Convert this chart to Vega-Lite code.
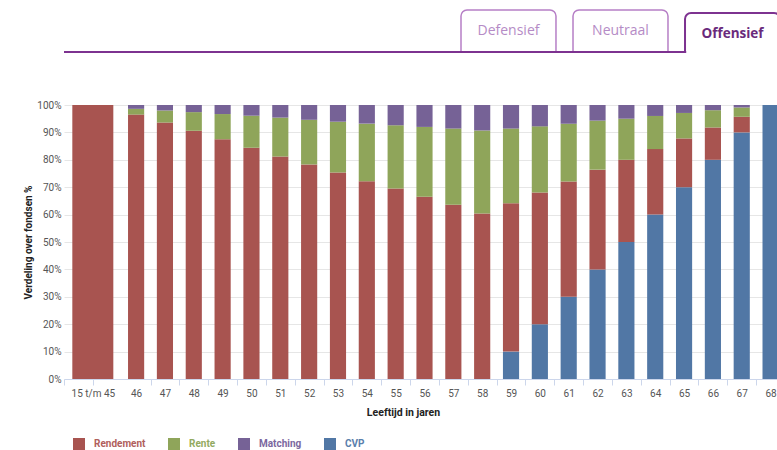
{
  "$schema": "https://vega.github.io/schema/vega-lite/v6.json",
  "padding": {"left": 23, "top": 9, "right": 0, "bottom": 0},
  "config": {
    "font": "Roboto",
    "view": {"stroke": null}
  },
  "columns": 1,
  "align": "none",
  "spacing": 45,
  "resolve": {"scale": {"color": "independent"}},
  "datasets": {
    "tabs": [
      {"tab": "Defensief"},
      {"tab": "Neutraal"},
      {"tab": "Offensief"}
    ],
    "verdeling": [
      {"leeftijd": "15 t/m 45", "fonds": "Rendement", "aandeel": 100},
      {"leeftijd": "46", "fonds": "Rendement", "aandeel": 96.5},
      {"leeftijd": "46", "fonds": "Rente", "aandeel": 2.1},
      {"leeftijd": "46", "fonds": "Matching", "aandeel": 1.4},
      {"leeftijd": "47", "fonds": "Rendement", "aandeel": 93.6},
      {"leeftijd": "47", "fonds": "Rente", "aandeel": 4.4},
      {"leeftijd": "47", "fonds": "Matching", "aandeel": 2.0},
      {"leeftijd": "48", "fonds": "Rendement", "aandeel": 90.6},
      {"leeftijd": "48", "fonds": "Rente", "aandeel": 6.8},
      {"leeftijd": "48", "fonds": "Matching", "aandeel": 2.6},
      {"leeftijd": "49", "fonds": "Rendement", "aandeel": 87.5},
      {"leeftijd": "49", "fonds": "Rente", "aandeel": 9.2},
      {"leeftijd": "49", "fonds": "Matching", "aandeel": 3.3},
      {"leeftijd": "50", "fonds": "Rendement", "aandeel": 84.4},
      {"leeftijd": "50", "fonds": "Rente", "aandeel": 11.7},
      {"leeftijd": "50", "fonds": "Matching", "aandeel": 3.9},
      {"leeftijd": "51", "fonds": "Rendement", "aandeel": 81.2},
      {"leeftijd": "51", "fonds": "Rente", "aandeel": 14.2},
      {"leeftijd": "51", "fonds": "Matching", "aandeel": 4.6},
      {"leeftijd": "52", "fonds": "Rendement", "aandeel": 78.3},
      {"leeftijd": "52", "fonds": "Rente", "aandeel": 16.3},
      {"leeftijd": "52", "fonds": "Matching", "aandeel": 5.4},
      {"leeftijd": "53", "fonds": "Rendement", "aandeel": 75.4},
      {"leeftijd": "53", "fonds": "Rente", "aandeel": 18.5},
      {"leeftijd": "53", "fonds": "Matching", "aandeel": 6.1},
      {"leeftijd": "54", "fonds": "Rendement", "aandeel": 72.2},
      {"leeftijd": "54", "fonds": "Rente", "aandeel": 21.0},
      {"leeftijd": "54", "fonds": "Matching", "aandeel": 6.8},
      {"leeftijd": "55", "fonds": "Rendement", "aandeel": 69.5},
      {"leeftijd": "55", "fonds": "Rente", "aandeel": 23.1},
      {"leeftijd": "55", "fonds": "Matching", "aandeel": 7.4},
      {"leeftijd": "56", "fonds": "Rendement", "aandeel": 66.5},
      {"leeftijd": "56", "fonds": "Rente", "aandeel": 25.5},
      {"leeftijd": "56", "fonds": "Matching", "aandeel": 8.0},
      {"leeftijd": "57", "fonds": "Rendement", "aandeel": 63.6},
      {"leeftijd": "57", "fonds": "Rente", "aandeel": 27.8},
      {"leeftijd": "57", "fonds": "Matching", "aandeel": 8.6},
      {"leeftijd": "58", "fonds": "Rendement", "aandeel": 60.4},
      {"leeftijd": "58", "fonds": "Rente", "aandeel": 30.3},
      {"leeftijd": "58", "fonds": "Matching", "aandeel": 9.3},
      {"leeftijd": "59", "fonds": "CVP", "aandeel": 10},
      {"leeftijd": "59", "fonds": "Rendement", "aandeel": 54.1},
      {"leeftijd": "59", "fonds": "Rente", "aandeel": 27.3},
      {"leeftijd": "59", "fonds": "Matching", "aandeel": 8.6},
      {"leeftijd": "60", "fonds": "CVP", "aandeel": 20},
      {"leeftijd": "60", "fonds": "Rendement", "aandeel": 48.1},
      {"leeftijd": "60", "fonds": "Rente", "aandeel": 24.1},
      {"leeftijd": "60", "fonds": "Matching", "aandeel": 7.8},
      {"leeftijd": "61", "fonds": "CVP", "aandeel": 30},
      {"leeftijd": "61", "fonds": "Rendement", "aandeel": 42.1},
      {"leeftijd": "61", "fonds": "Rente", "aandeel": 21.1},
      {"leeftijd": "61", "fonds": "Matching", "aandeel": 6.8},
      {"leeftijd": "62", "fonds": "CVP", "aandeel": 40},
      {"leeftijd": "62", "fonds": "Rendement", "aandeel": 36.4},
      {"leeftijd": "62", "fonds": "Rente", "aandeel": 17.9},
      {"leeftijd": "62", "fonds": "Matching", "aandeel": 5.7},
      {"leeftijd": "63", "fonds": "CVP", "aandeel": 50},
      {"leeftijd": "63", "fonds": "Rendement", "aandeel": 30.0},
      {"leeftijd": "63", "fonds": "Rente", "aandeel": 15.0},
      {"leeftijd": "63", "fonds": "Matching", "aandeel": 5.0},
      {"leeftijd": "64", "fonds": "CVP", "aandeel": 60},
      {"leeftijd": "64", "fonds": "Rendement", "aandeel": 23.9},
      {"leeftijd": "64", "fonds": "Rente", "aandeel": 12.1},
      {"leeftijd": "64", "fonds": "Matching", "aandeel": 4.0},
      {"leeftijd": "65", "fonds": "CVP", "aandeel": 70},
      {"leeftijd": "65", "fonds": "Rendement", "aandeel": 17.8},
      {"leeftijd": "65", "fonds": "Rente", "aandeel": 9.3},
      {"leeftijd": "65", "fonds": "Matching", "aandeel": 2.9},
      {"leeftijd": "66", "fonds": "CVP", "aandeel": 80},
      {"leeftijd": "66", "fonds": "Rendement", "aandeel": 11.8},
      {"leeftijd": "66", "fonds": "Rente", "aandeel": 6.3},
      {"leeftijd": "66", "fonds": "Matching", "aandeel": 1.9},
      {"leeftijd": "67", "fonds": "CVP", "aandeel": 90},
      {"leeftijd": "67", "fonds": "Rendement", "aandeel": 5.7},
      {"leeftijd": "67", "fonds": "Rente", "aandeel": 3.4},
      {"leeftijd": "67", "fonds": "Matching", "aandeel": 0.9},
      {"leeftijd": "68", "fonds": "CVP", "aandeel": 100}
    ]
  },
  "concat": [
    {
      "width": 713,
      "height": 42,
      "data": {"name": "tabs"},
      "encoding": {
        "x": {
          "field": "tab",
          "type": "nominal",
          "scale": {"domain": ["Defensief", "Neutraal", "Offensief"], "range": [397, 716], "paddingInner": 0.152, "paddingOuter": 0},
          "axis": null
        }
      },
      "layer": [
        {
          "transform": [{"filter": "datum.tab !== 'Offensief'"}],
          "mark": {"type": "bar", "fill": "white", "stroke": "#b67fc6", "strokeWidth": 1.5, "cornerRadiusTopLeft": 6, "cornerRadiusTopRight": 6},
          "encoding": {
            "y": {"datum": 1, "type": "quantitative", "scale": {"domain": [0, 1]}, "axis": null},
            "y2": {"datum": 0}
          }
        },
        {
          "mark": {"type": "rule", "stroke": "#7d3290", "strokeWidth": 2},
          "encoding": {
            "x": {"value": 0},
            "x2": {"value": "width"},
            "y": {"datum": 0, "type": "quantitative"}
          }
        },
        {
          "transform": [{"filter": "datum.tab === 'Offensief'"}],
          "mark": {"type": "bar", "fill": "white", "stroke": "#7d3290", "strokeWidth": 2, "cornerRadiusTopLeft": 6, "cornerRadiusTopRight": 6},
          "encoding": {
            "y": {"datum": 0.93, "type": "quantitative"},
            "y2": {"datum": 0}
          }
        },
        {
          "transform": [{"filter": "datum.tab === 'Offensief'"}],
          "mark": {"type": "bar", "fill": "white", "xOffset": 1.2},
          "encoding": {
            "y": {"datum": 0.04, "type": "quantitative"},
            "y2": {"datum": -0.06}
          }
        },
        {
          "transform": [{"filter": "datum.tab !== 'Offensief'"}],
          "mark": {"type": "text", "font": "Open Sans", "fontSize": 14, "color": "#b58bc6"},
          "encoding": {
            "y": {"datum": 0.5, "type": "quantitative"},
            "text": {"field": "tab"}
          }
        },
        {
          "transform": [{"filter": "datum.tab === 'Offensief'"}],
          "mark": {"type": "text", "font": "Open Sans", "fontSize": 13.5, "fontWeight": "bold", "color": "#6a2a7c"},
          "encoding": {
            "y": {"datum": 0.43, "type": "quantitative"},
            "text": {"field": "tab"}
          }
        }
      ]
    },
    {
      "width": 714,
      "height": 274,
      "data": {"name": "verdeling"},
      "transform": [
        {"calculate": "indexof(['CVP', 'Rendement', 'Rente', 'Matching'], datum.fonds)", "as": "volgorde"}
      ],
      "encoding": {
        "x": {
          "field": "leeftijd",
          "type": "nominal",
          "scale": {
            "domain": ["15 t/m 45", " ", "46", "47", "48", "49", "50", "51", "52", "53", "54", "55", "56", "57", "58", "59", "60", "61", "62", "63", "64", "65", "66", "67", "68"],
            "range": [0, 721],
            "paddingInner": 0,
            "paddingOuter": 0
          },
          "axis": {
            "labelAngle": 0,
            "tickBand": "extent",
            "tickSize": 6,
            "tickColor": "#ccd6eb",
            "tickOpacity": {"condition": {"test": "datum.value === ' '", "value": 0}, "value": 1},
            "domainColor": "#ccd6eb",
            "labelColor": "#555555",
            "labelFontSize": 10,
            "labelPadding": 3,
            "labelOffset": {"condition": {"test": "datum.value === '15 t/m 45'", "value": 14.4}, "value": 0},
            "title": "Leeftijd in jaren",
            "titleFontSize": 10.5,
            "titleFontWeight": "bold",
            "titleColor": "#222222",
            "titlePadding": 9,
            "titleX": 339
          }
        },
        "y": {
          "field": "aandeel",
          "type": "quantitative",
          "stack": "zero",
          "scale": {"domain": [0, 100], "nice": false},
          "axis": {
            "values": [0, 10, 20, 30, 40, 50, 60, 70, 80, 90, 100],
            "labelExpr": "datum.value + '%'",
            "grid": true,
            "gridColor": "#e6e6e6",
            "ticks": false,
            "domain": false,
            "labelColor": "#555555",
            "labelFontSize": 10,
            "labelPadding": 3,
            "title": "Verdeling over fondsen %",
            "titleFontSize": 10,
            "titleFontWeight": "bold",
            "titleColor": "#222222",
            "titlePadding": 3
          }
        },
        "color": {
          "field": "fonds",
          "type": "nominal",
          "scale": {
            "domain": ["Rendement", "Rente", "Matching", "CVP"],
            "range": ["#a85450", "#8fa55a", "#766296", "#5177a5"]
          },
          "legend": {
            "title": null,
            "orient": "none",
            "direction": "horizontal",
            "legendX": 9,
            "legendY": 333,
            "symbolType": "square",
            "symbolSize": 144,
            "symbolStrokeWidth": 0,
            "symbolOpacity": 1,
            "labelFontSize": 10,
            "labelFontWeight": "bold",
            "labelOffset": 9,
            "columnPadding": 22,
            "encode": {
              "labels": {"update": {"fill": {"signal": "datum.value === 'Rendement' ? '#b0605c' : datum.value === 'Rente' ? '#93aa5f' : datum.value === 'Matching' ? '#7b68a0' : '#5a80ad'"}}}
            }
          }
        },
        "order": {"field": "volgorde", "type": "quantitative"}
      },
      "layer": [
        {
          "transform": [{"filter": "datum.leeftijd === '15 t/m 45'"}],
          "mark": {"type": "bar", "width": 41, "xOffset": 14.4}
        },
        {
          "transform": [{"filter": "datum.leeftijd !== '15 t/m 45'"}],
          "mark": {"type": "bar", "width": {"band": 0.56}}
        }
      ]
    }
  ]
}
